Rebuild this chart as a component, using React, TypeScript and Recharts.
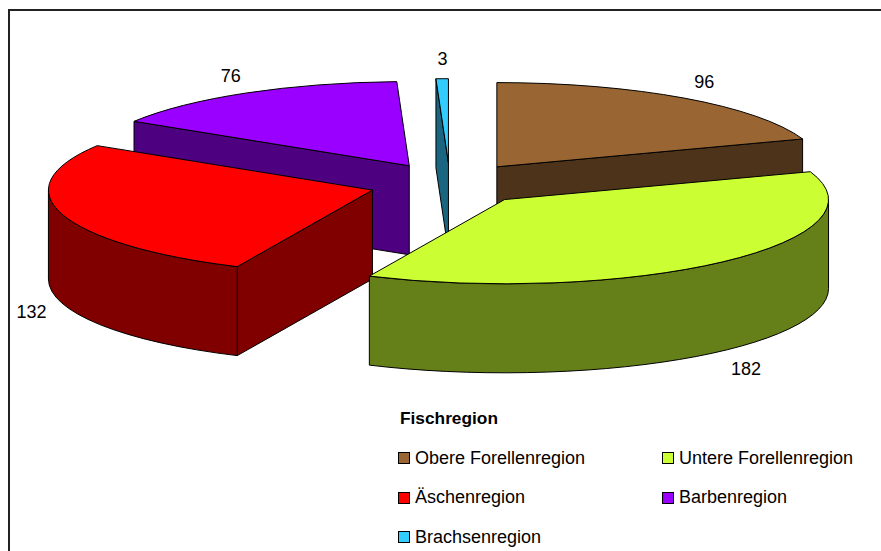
import React from 'react';
import { Legend, Pie, PieChart } from 'recharts';

const regions = ['Obere Forellenregion', 'Untere Forellenregion', 'Äschenregion', 'Barbenregion', 'Brachsenregion'];
const counts = [96, 182, 132, 76, 3];
const topColors = ['#996633', '#CCFF33', '#FF0000', '#9900FF', '#33CCFF'];
const sideColors = ['#4D331A', '#668019', '#800000', '#4D0080', '#1A6680'];
// back to front, so nearer slices cover the ones behind
const paintOrder = ['Brachsenregion', 'Barbenregion', 'Obere Forellenregion', 'Äschenregion', 'Untere Forellenregion'];

const data = regions.map((name, i) => ({
  name,
  value: counts[i],
  fill: topColors[i],
  side: sideColors[i],
}));

const RADIAN = Math.PI / 180;
const SQUASH = 0.26; // ellipse height / width
const DEPTH = 89;
const EXPLODE = 0.25;

const project = (cx: number, cy: number, r: number, angle: number) => ({
  x: cx + r * Math.cos(angle * RADIAN),
  y: cy - r * SQUASH * Math.sin(angle * RADIAN),
});

const Slice3D = (props: any) => {
  const { cx, cy, outerRadius: r, startAngle, endAngle, midAngle, fill, payload, only } = props;
  if (payload?.name !== only) return null;
  const apex = project(cx, cy, r * EXPLODE, midAngle);
  const a = project(apex.x, apex.y, r, startAngle);
  const b = project(apex.x, apex.y, r, endAngle);
  const large = Math.abs(startAngle - endAngle) > 180 ? 1 : 0;
  const rx = r;
  const ry = r * SQUASH;

  const wall = (p: { x: number; y: number }) =>
    `M${apex.x},${apex.y}L${p.x},${p.y}L${p.x},${p.y + DEPTH}L${apex.x},${apex.y + DEPTH}Z`;
  // a cut face is drawn only if it turns towards the viewer
  const showStart = Math.cos(startAngle * RADIAN) < -1e-6;
  const showEnd = Math.cos(endAngle * RADIAN) > 1e-6;

  // outer wall only for the part of the rim that faces the viewer (angles -180..0)
  const lo = Math.max(Math.min(startAngle, endAngle), -180);
  const hi = Math.min(Math.max(startAngle, endAngle), 0);
  let rim = '';
  if (hi > lo) {
    const p = project(apex.x, apex.y, r, hi);
    const q = project(apex.x, apex.y, r, lo);
    rim = `M${p.x},${p.y}A${rx},${ry} 0 0 1 ${q.x},${q.y}L${q.x},${q.y + DEPTH}A${rx},${ry} 0 0 0 ${p.x},${p.y + DEPTH}Z`;
  }
  const lineProps = { stroke: '#000', strokeWidth: 1, strokeLinejoin: 'round' as const };
  return (
    <g>
      {showStart && <path d={wall(a)} fill={payload.side} {...lineProps} />}
      {showEnd && <path d={wall(b)} fill={payload.side} {...lineProps} />}
      {rim && <path d={rim} fill={payload.side} {...lineProps} />}
      <path
        d={`M${apex.x},${apex.y}L${a.x},${a.y}A${rx},${ry} 0 ${large} 1 ${b.x},${b.y}Z`}
        fill={fill}
        {...lineProps}
      />
    </g>
  );
};

const renderLabel = (props: any) => {
  const { cx, cy, outerRadius: r, midAngle, value } = props;
  const apex = project(cx, cy, r * EXPLODE, midAngle);
  const rimPt = project(apex.x, apex.y, r, midAngle);
  const c = Math.cos(midAngle * RADIAN);
  const s = Math.sin(midAngle * RADIAN);
  const x = rimPt.x + c * 33 + 1;
  const y = rimPt.y - s * 21 + 1 + (s < 0 && Math.abs(s) > 0.2 ? DEPTH + 2 : 0);
  return (
    <text x={x} y={y} fill="#000" fontSize={18} textAnchor="middle" dominantBaseline="central">
      {value}
    </text>
  );
};

const LegendBox = () => (
  <div style={{ position: 'relative', width: 480, height: 150, color: '#000', fontSize: 18 }}>
    <div style={{ position: 'absolute', left: 6, top: 0, fontWeight: 'bold', lineHeight: '20px', fontSize: 17.3 }}>
      Fischregion
    </div>
    {regions.map((name, i) => (
      <div
        key={name}
        style={{
          position: 'absolute',
          left: 4 + (i % 2) * 264,
          top: 39.5 * (1 + Math.floor(i / 2)) + 0.5,
          display: 'flex',
          alignItems: 'center',
          height: 20,
          whiteSpace: 'nowrap',
        }}
      >
        <span
          style={{
            display: 'inline-block',
            width: 10,
            height: 10,
            marginRight: 5,
            background: topColors[i],
            border: '1px solid #000',
          }}
        />
        {name}
      </div>
    ))}
  </div>
);

export default function App() {
  return (
    <div style={{ position: 'absolute', left: 0, top: 0, width: 881, height: 551, overflow: 'hidden', fontFamily: '"Liberation Sans", Arial, sans-serif' }}>
      <div style={{ position: 'absolute', left: 8, top: 9, width: 873, height: 542, borderTop: '2px solid #222', borderLeft: '2px solid #222', boxSizing: 'border-box' }} />
      <PieChart width={881} height={551} style={{ position: 'absolute', left: 0, top: 0 }}>
        {paintOrder.map((name, i) => (
          <Pie
            key={name}
            data={data}
            dataKey="value"
            nameKey="name"
            cx={445}
            cy={179}
            innerRadius={0}
            outerRadius={324}
            startAngle={90}
            endAngle={-270}
            stroke="none"
            isAnimationActive={false}
            shape={(p: any) => <Slice3D {...p} only={name} />}
            label={i === paintOrder.length - 1 ? renderLabel : false}
            labelLine={false}
          />
        ))}
        <Legend content={<LegendBox />} wrapperStyle={{ position: 'absolute', left: 394, top: 408, width: 480, height: 150 }} />
      </PieChart>
    </div>
  );
}
